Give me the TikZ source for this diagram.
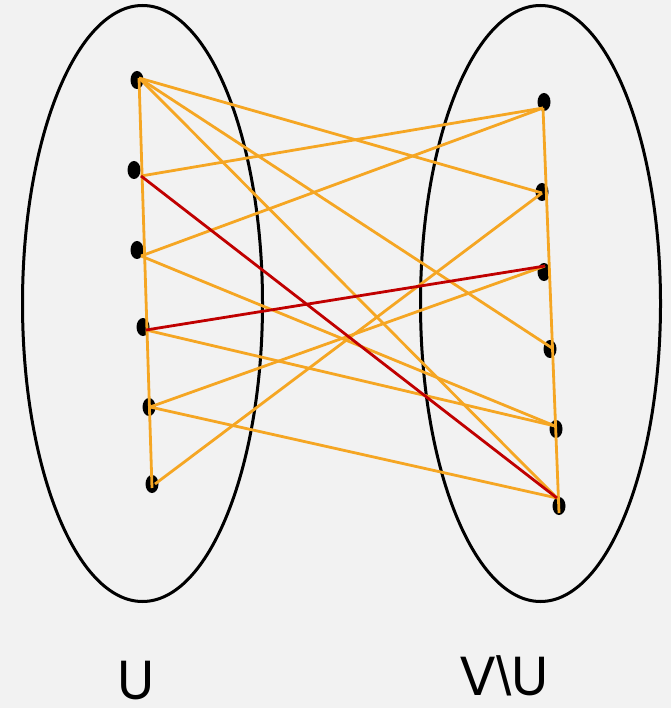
\documentclass[tikz,border=0pt]{standalone}
\usepackage{fontspec}
\setmainfont{Poppins}
\newfontfamily\slashfont{Liberation Sans}
\usetikzlibrary{shapes.geometric}
\definecolor{bg}{HTML}{F2F2F2}
\definecolor{edgeorange}{HTML}{F5A623}
\definecolor{edgered}{HTML}{C00000}
\tikzset{
  setshape/.style={draw=black, line width=3pt, ellipse, inner sep=0pt, minimum width=240pt, minimum height=596pt},
  vert/.style={ellipse, fill=black, inner sep=0pt, minimum width=13pt, minimum height=18pt},
  oedge/.style={draw=edgeorange, line width=2.8pt},
  redge/.style={draw=edgered, line width=2.8pt},
  setlabel/.style={font=\fontsize{55}{55}\selectfont, anchor=base, inner sep=0pt}
}
\begin{document}
\begin{tikzpicture}[x=1pt,y=-1pt]
\fill[bg] (0,0) rectangle (671,708);
\useasboundingbox (0,0) rectangle (671,708);
\node[setshape] (U) at (142.5,303.5) {};
\node[setshape] (W) at (540.5,303.5) {};
% vertices
\node[vert] (l1) at (137,80) {};
\node[vert] (l2) at (134,170) {};
\node[vert] (l3) at (137,250) {};
\node[vert] (l4) at (143,327) {};
\node[vert] (l5) at (149,407) {};
\node[vert] (l6) at (152,484) {};
\node[vert] (r1) at (544,102) {};
\node[vert] (r2) at (542,192) {};
\node[vert] (r3) at (544,272) {};
\node[vert] (r4) at (550,349) {};
\node[vert] (r5) at (556,429) {};
\node[vert] (r6) at (559,506) {};
% edge end points
\coordinate (a1) at (139,78);
\coordinate (a2) at (141,176);
\coordinate (a3) at (141,256);
\coordinate (a4) at (146,330);
\coordinate (a5) at (150,407);
\coordinate (a6) at (155,484);
\coordinate (a0) at (152,488);
\coordinate (b1) at (543,108);
\coordinate (b2) at (542,193);
\coordinate (b3) at (545,266);
\coordinate (b4) at (552,348);
\coordinate (b5) at (555,426);
\coordinate (b6) at (557,498);
\coordinate (b0) at (559,513);
% edges
\draw[oedge] (a1) -- (a0);
\draw[oedge] (b1) -- (b0);
\draw[oedge] (a1) -- (b2);
\draw[oedge] (a1) -- (b4);
\draw[oedge] (a1) -- (b6);
\draw[oedge] (a2) -- (b1);
\draw[oedge] (a3) -- (b1);
\draw[oedge] (a3) -- (b5);
\draw[oedge] (a4) -- (b5);
\draw[oedge] (a5) -- (b3);
\draw[oedge] (a5) -- (b6);
\draw[oedge] (a6) -- (b2);
\draw[redge] (a2) -- (b6);
\draw[redge] (a4) -- (b3);
% labels
\node[setlabel] (tu) at (136,699) {U};
\node[setlabel] (tw) at (504,695) {V{\slashfont\textbackslash}U};
\end{tikzpicture}
\end{document}
